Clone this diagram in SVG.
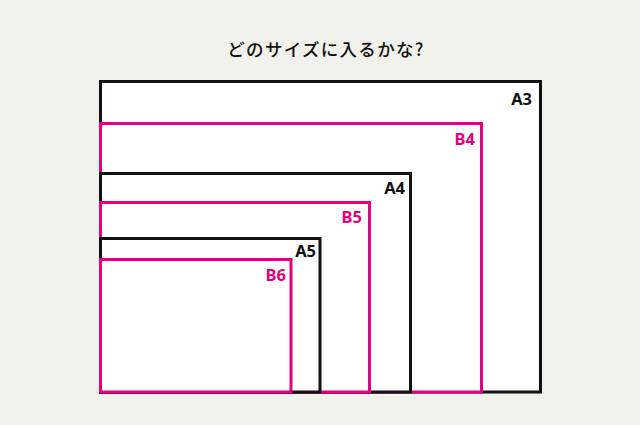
<svg xmlns="http://www.w3.org/2000/svg" width="640" height="425" viewBox="0 0 640 425">
<style>
.bk{fill:#ffffff;stroke:#111111;stroke-width:3}
.pk{fill:#ffffff;stroke:#e4007f;stroke-width:3}
.lb{font-family:"Noto Sans","Liberation Sans",sans-serif;font-weight:bold;font-size:16.5px;text-anchor:end}
.lbk{fill:#111111}
.lpk{fill:#e4007f}
.title{font-family:"Noto Sans CJK JP","Noto Sans",sans-serif;font-weight:500;font-size:17.5px;fill:#111111;text-anchor:middle;letter-spacing:1.3px}
</style>
<rect width="640" height="425" fill="#f2f2ec"/>
<text class="title" x="326" y="56">どのサイズに入るかな?</text>
<g id="A3"><rect class="bk" x="100.5" y="81.5" width="440" height="310.5"/><text class="lb lbk" x="532" y="104.5">A3</text></g>
<g id="B4"><rect class="pk" x="100.5" y="123.5" width="381" height="268.5"/><text class="lb lpk" x="475" y="144.5">B4</text></g>
<g id="A4"><rect class="bk" x="100.5" y="173.5" width="310" height="218.5"/><text class="lb lbk" x="405" y="193.5">A4</text></g>
<g id="B5"><rect class="pk" x="100.5" y="202.5" width="269" height="189.5"/><text class="lb lpk" x="362" y="222.5">B5</text></g>
<g id="A5"><rect class="bk" x="100.5" y="238.5" width="219.5" height="153.5"/><text class="lb lbk" x="316" y="256.5">A5</text></g>
<g id="B6"><rect class="pk" x="100.5" y="259.5" width="190.5" height="132.5"/><text class="lb lpk" x="286" y="280.5">B6</text></g>
<g id="connectors"></g>
</svg>
